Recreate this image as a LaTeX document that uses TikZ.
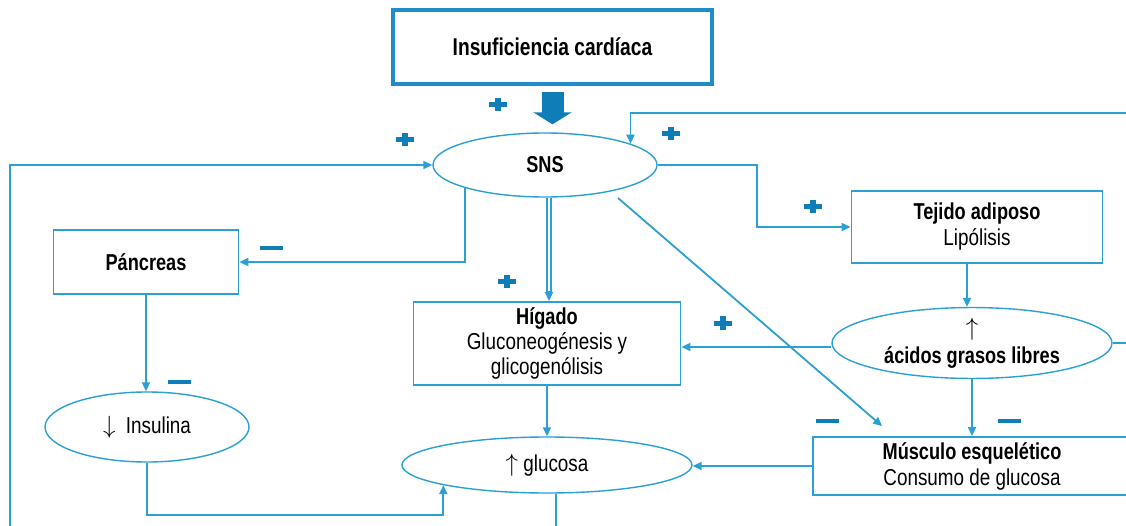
\documentclass[tikz,border=0pt]{standalone}
\usepackage{fontspec}
\setmainfont{Liberation Sans}[FakeStretch=0.82]
\newfontfamily\bfam{Liberation Sans}[FakeStretch=0.79]
\usetikzlibrary{shapes.geometric,arrows.meta,calc}
\newcommand\boldtxt[1]{{\bfam\bfseries #1}}
\definecolor{linec}{HTML}{2AA0D4}
\definecolor{signc}{HTML}{0E7DB8}
\definecolor{titlec}{HTML}{1E8CC6}
\tikzset{
  box/.style={draw=linec, line width=1.8pt, fill=white, inner sep=0pt, align=center, font=\fontsize{23}{26}\selectfont},
  oval/.style={ellipse, draw=linec, line width=1.4pt, fill=white, inner sep=0pt, align=center, font=\fontsize{23}{27}\selectfont},
  ln/.style={draw=linec, line width=1.8pt},
  thin/.style={draw=linec, line width=1.3pt},
  arr/.style={ln, -{Triangle[length=9pt,width=8pt]}},
  bigarr/.style={draw=signc, line width=22pt, -{Triangle[length=12pt,width=38pt]}},
  pls/.pic={\fill[signc] (-9,-2.5) rectangle (9,2.5); \fill[signc] (-3,-6.5) rectangle (3,6.5);},
  mns/.pic={\fill[signc] (-11.5,-2) rectangle (11.5,2);}
}
\begin{document}
\begin{tikzpicture}[x=1pt,y=-1pt]
\useasboundingbox (0,0) rectangle (1126,526);
\clip (0,0) rectangle (1126,526);
\fill[white] (0,0) rectangle (1126,526);

% nodes
\node[box, draw=titlec, line width=3.2pt, minimum width=319, minimum height=74] (ic) at (552.5,47)
  {\fontsize{24.3}{27}\selectfont\boldtxt{Insuficiencia cardíaca}};
\node[oval, minimum width=224, minimum height=64] (sns) at (545,165) {\boldtxt{SNS}};
\node[box, minimum width=185, minimum height=64] (pan) at (146,262) {\boldtxt{Páncreas}};
\node[box, minimum width=251, minimum height=72] (tej) at (977,227) {\boldtxt{Tejido adiposo}\\Lipólisis};
\node[box, minimum width=267, minimum height=83, font=\fontsize{23}{25}\selectfont] (hig) at (547,343.5)
  {\boldtxt{Hígado}\\Gluconeogénesis y\\glicogenólisis};
\node[oval, minimum width=280, minimum height=70, font=\fontsize{23}{28}\selectfont] (aci) at (972,343)
  {$\uparrow$\\\boldtxt{ácidos grasos libres}};
\node[oval, minimum width=204, minimum height=70] (ins) at (147,427) {$\downarrow$\ \ Insulina};
\node[oval, minimum width=290, minimum height=56] (glu) at (547,465) {$\uparrow$\ glucosa};
\node[box, minimum width=318, minimum height=58] (mus) at (972,466) {\boldtxt{Músculo esquelético}\\Consumo de glucosa};

% free ends
\coordinate (bl) at (10,540);
\coordinate (tr) at (1135,113);
\coordinate (k1) at (757,0);
\coordinate (k2) at (0,515);
\coordinate (bb) at (556,540);

% connectors
\draw[bigarr] ([yshift=-6pt]ic.south) -- ([yshift=8pt]ic.south |- sns.north);
\draw[arr] (bl) |- (sns.west);
\draw[arr] (aci.east) -| (tr) -| (sns.14.9);
\draw[arr] (sns.east) -| (k1 |- tej.west) -- (tej.west);
\draw[arr] (sns.196.4) |- (pan.east);
\draw[thin] ([xshift=2pt]sns.south) -- ([xshift=2pt,yshift=8pt]sns.south |- hig.north);
\draw[thin] ([xshift=6pt]sns.south) -- ([xshift=6pt,yshift=8pt]sns.south |- hig.north);
\draw[arr] ([xshift=4pt,yshift=10pt]sns.south |- hig.north) -- ([xshift=4pt]sns.south |- hig.north);
\draw[arr] ([shift={(73,33)}]sns.center) -- ([shift={(70,-10)}]mus.north west);
\draw[arr] ([xshift=-10pt]tej.south) -- ([xshift=-10pt]tej.south |- aci.north);
\draw[arr] ([yshift=-4pt]aci.west) -- ([yshift=-4pt]aci.west -| hig.east);
\draw[arr] (aci.south) -- (mus.north);
\draw[arr] (pan.south) -- (pan.south |- ins.north);
\draw[arr] (hig.south) -- (hig.south |- glu.north);
\draw[arr] (mus.west) -- (mus.west -| glu.east);
\draw[arr] (ins.south) -- (ins.south |- k2) -| (glu.191);
\draw[ln] (glu.south -| bb) -- (bb);

% signs
\pic at (498,105) {pls};
\pic at (405,140) {pls};
\pic at (671,134) {pls};
\pic at (813,207) {pls};
\pic at (507,282) {pls};
\pic at (723,323) {pls};
\pic at (271,248) {mns};
\pic at (179,382) {mns};
\pic at (827,421) {mns};
\pic at (1009,421) {mns};
\end{tikzpicture}
\end{document}
